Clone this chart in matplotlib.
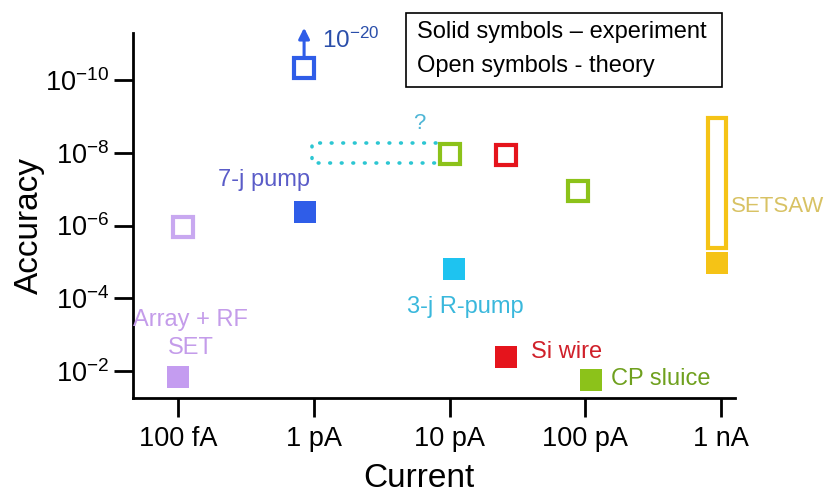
import matplotlib
matplotlib.use('Agg')
import matplotlib.pyplot as plt
from matplotlib.patches import Rectangle

plt.rcParams['font.family'] = ['Liberation Sans', 'DejaVu Sans']
plt.rcParams['mathtext.fontset'] = 'custom'
plt.rcParams['mathtext.rm'] = 'Liberation Sans'
plt.rcParams['mathtext.it'] = 'Liberation Sans:italic'
plt.rcParams['mathtext.bf'] = 'Liberation Sans:bold'

# solid symbols: measured pumps (current in A, relative accuracy)
exp_names = ['Array + RF\nSET', '7-j pump', '3-j R-pump', 'Si wire', 'CP sluice', 'SETSAW']
exp_current = [1.0e-13, 8.7e-13, 1.07e-11, 2.6e-11, 1.1e-10, 9.3e-10]
exp_accuracy = [1.45e-2, 4.3e-7, 1.55e-5, 4.1e-3, 1.75e-2, 1.1e-5]

# open symbols: predicted values
th_current = [1.1e-13, 8.5e-13, 1.0e-11, 2.6e-11, 8.9e-11]
th_accuracy = [1.1e-6, 4.7e-11, 1.07e-8, 1.15e-8, 1.1e-7]

# SETSAW prediction is a range
saw_current = 9.3e-10
saw_range = [1.1e-9, 4.2e-6]

# the open question between 1 pA and 10 pA
pending_current = [9.7e-13, 8.0e-12]
pending_accuracy = [5.4e-9, 1.9e-8]

xticks = [1e-13, 1e-12, 1e-11, 1e-10, 1e-9]
xlabels = ['100 fA', '1 pA', '10 pA', '100 pA', '1 nA']
yticks = [1e-10, 1e-8, 1e-6, 1e-4, 1e-2]
ylabels = [r'$\mathregular{10^{-10}}$', r'$\mathregular{10^{-8}}$', r'$\mathregular{10^{-6}}$',
           r'$\mathregular{10^{-4}}$', r'$\mathregular{10^{-2}}$']

lavender = '#C49CF0'
blue = '#2F5DE8'
cyan = '#1EC3F0'
red = '#E5141C'
green = '#8CC21A'
yellow = '#F5C316'
exp_colors = [lavender, blue, cyan, red, green, yellow]
th_colors = ['#C8A8F0', blue, green, red, green]
text_colors = ['#C49CEA', '#5A5CC8', '#3AB8DC', '#D0202A', '#6FA01E', '#D8C264']

fig = plt.figure(figsize=(8.34, 4.94), dpi=100)
ax = fig.add_axes([0.1595, 0.1943, 0.7215, 0.7389])
ax.set_xscale('log')
ax.set_yscale('log')
ax.set_xlim(10**-13.33, 10**-8.9)
ax.set_ylim(10**-1.26, 10**-11.29)

for x, y, c in zip(exp_current, exp_accuracy, exp_colors):
    ax.plot(x, y, 's', ms=15.5, color=c, mec=c, mew=0, zorder=4)
for x, y, c in zip(th_current, th_accuracy, th_colors):
    ax.plot(x, y, 's', ms=14, mfc='white', mec=c, mew=3, zorder=4)

# SETSAW range as a tall open bar
w = 10**0.066
ax.add_patch(Rectangle((saw_current / w, saw_range[0]), saw_current * w - saw_current / w,
                       saw_range[1] - saw_range[0], fill=False, ec=yellow, lw=3, zorder=3))

# dotted box
lo, hi = pending_current
top, bot = pending_accuracy
ax.plot([hi, lo, lo, hi], [top, top, bot, bot], color='#2CC6D2', lw=2.6,
        ls=(0, (0.2, 3.0)), dash_capstyle='round', zorder=2)
ax.annotate('?', xy=(hi, top), xytext=(-12, 14), textcoords='offset points',
            ha='center', va='center', fontsize=16, color='#4FB6D6')

# arrow to 1e-20
ax.annotate('', xy=(th_current[1], th_accuracy[1]), xytext=(0, 29), textcoords='offset points',
            arrowprops=dict(arrowstyle='<|-', color=blue, lw=2.2, mutation_scale=16,
                            shrinkA=0, shrinkB=8), annotation_clip=False)
ax.annotate(r'$\mathregular{10^{-20}}$', xy=(th_current[1], th_accuracy[1]), xytext=(13, 20),
            textcoords='offset points', ha='left', va='center', fontsize=17.5, color='#2A4EAA',
            annotation_clip=False)

# point labels
offsets = [(9, 31), (-30, 23), (8.6, -27.4), (18, 3.6), (14.4, 0.7)]
aligns = ['center', 'center', 'center', 'left', 'left']
for i in range(5):
    ax.annotate(exp_names[i], xy=(exp_current[i], exp_accuracy[i]), xytext=offsets[i],
                textcoords='offset points', ha=aligns[i], va='center', fontsize=17,
                color=text_colors[i], linespacing=1.35)
ax.annotate(exp_names[5], xy=(saw_current, (saw_range[0] * saw_range[1]) ** 0.5), xytext=(10.4, -16.6),
            textcoords='offset points', ha='left', va='center', fontsize=16, color=text_colors[5],
            annotation_clip=False)

ax.set_xticks(xticks)
ax.set_xticklabels(xlabels)
ax.set_yticks(yticks)
ax.set_yticklabels(ylabels)
ax.minorticks_off()
ax.tick_params(axis='both', labelsize=19.5, length=14, width=2, direction='out')
ax.tick_params(axis='x', pad=6)
ax.tick_params(axis='y', pad=3)
for s in ['top', 'right']:
    ax.spines[s].set_visible(False)
for s in ['left', 'bottom']:
    ax.spines[s].set_linewidth(2)

fig.text(419 / 834, 1 - 478 / 494, 'Current', ha='center', va='center', fontsize=24)
fig.text(29 / 834, 1 - 226 / 494, 'Accuracy', ha='center', va='center', fontsize=24, rotation=90)

# legend box
fig.patches.append(Rectangle((406 / 834, 1 - 87 / 494), 316 / 834, 74 / 494, transform=fig.transFigure,
                             fill=False, ec='black', lw=1.2))
fig.text(417 / 834, 1 - 32 / 494, 'Solid symbols \u2013 experiment', ha='left', va='center', fontsize=17)
fig.text(417 / 834, 1 - 66 / 494, 'Open symbols - theory', ha='left', va='center', fontsize=17)

fig.savefig('out.png', dpi=100)
